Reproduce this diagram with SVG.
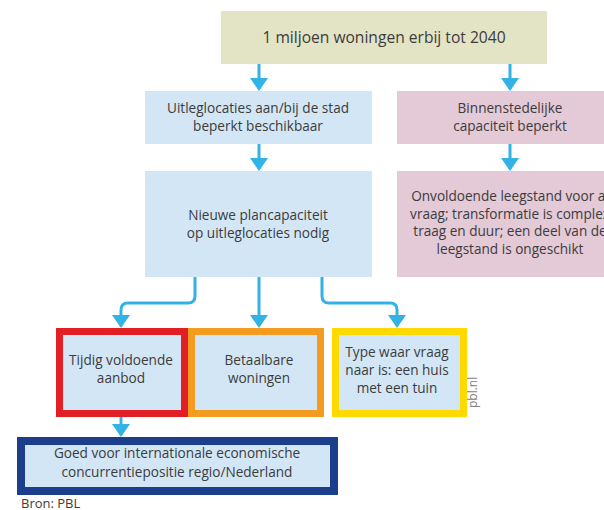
<svg xmlns="http://www.w3.org/2000/svg" width="604" height="510" viewBox="0 0 604 510">
  <defs>
    <style>
      text { font-family: "Open Sans", "Noto Sans", "Liberation Sans", sans-serif; font-size: 13.6px; fill: #3c3c3c; text-anchor: middle; }
      .blue { fill: #d3e6f5; }
      .olive { fill: #e3e3c5; }
      .pink { fill: #e4c9d7; }
      .frame { fill: #d3e6f5; }
      .wire { fill: none; stroke: #33b2e6; stroke-width: 3; marker-end: url(#head); }
      .note { font-size: 13px; text-anchor: start; }
      .credit { font-size: 12px; fill: #808080; text-anchor: start; }
    </style>
    <marker id="head" markerUnits="userSpaceOnUse" viewBox="0 0 13 18" refX="11" refY="9" markerWidth="13" markerHeight="18" orient="auto">
      <path d="M0 0 L13 9 L0 18 Z" fill="#33b2e6"/>
    </marker>
  </defs>

  <rect width="604" height="510" fill="#ffffff"/>

  <g id="connectors">
    <path class="wire" d="M259 64 V89"/>
    <path class="wire" d="M510 64 V89"/>
    <path class="wire" d="M259 144 V169"/>
    <path class="wire" d="M510 144 V169"/>
    <path class="wire" d="M195 277 V296 Q195 303 188 303 H128 Q121 303 121 310 V326"/>
    <path class="wire" d="M259 277 V326"/>
    <path class="wire" d="M322 277 V296 Q322 303 329 303 H390 Q397 303 397 310 V326"/>
    <path class="wire" d="M121 417 V435"/>
  </g>

  <g id="node-goal">
    <rect class="olive" x="221" y="11" width="326" height="53"/>
    <text x="384" y="43" style="font-size:15.6px">1 miljoen woningen erbij tot 2040</text>
  </g>

  <g id="node-uitleg">
    <rect class="blue" x="145" y="91" width="227" height="53"/>
    <text x="258" y="113">Uitleglocaties aan/bij de stad</text>
    <text x="258" y="131">beperkt beschikbaar</text>
  </g>

  <g id="node-binnenstedelijk">
    <rect class="pink" x="397" y="91" width="210" height="53"/>
    <text x="510" y="113">Binnenstedelijke</text>
    <text x="510" y="131">capaciteit beperkt</text>
  </g>

  <g id="node-plancapaciteit">
    <rect class="blue" x="145" y="171" width="227" height="106"/>
    <text x="258" y="220">Nieuwe plancapaciteit</text>
    <text x="258" y="238">op uitleglocaties nodig</text>
  </g>

  <g id="node-leegstand">
    <rect class="pink" x="397" y="171" width="210" height="106"/>
    <text x="510" y="201">Onvoldoende leegstand voor al</text>
    <text x="510" y="218.5">vraag; transformatie is complex</text>
    <text x="510" y="236">traag en duur; een deel van de</text>
    <text x="510" y="253.5">leegstand is ongeschikt</text>
  </g>

  <g id="node-aanbod">
    <rect class="frame" x="59.5" y="331.5" width="125" height="82" stroke="#e31f26" stroke-width="7"/>
    <text x="121" y="365">Tijdig voldoende</text>
    <text x="121" y="383">aanbod</text>
  </g>

  <g id="node-betaalbaar">
    <rect class="frame" x="191.5" y="331.5" width="129" height="82" stroke="#f39c1f" stroke-width="7"/>
    <text x="259" y="365">Betaalbare</text>
    <text x="259" y="383">woningen</text>
  </g>

  <g id="node-type">
    <rect class="frame" x="335.5" y="331.5" width="128" height="82" stroke="#ffda00" stroke-width="7"/>
    <text x="397" y="357">Type waar vraag</text>
    <text x="397" y="375">naar is: een huis</text>
    <text x="397" y="393">met een tuin</text>
  </g>

  <g id="node-concurrentie">
    <rect class="frame" x="21" y="441" width="313" height="50" stroke="#1b3f8a" stroke-width="8"/>
    <text x="177" y="458">Goed voor internationale economische</text>
    <text x="177" y="477">concurrentiepositie regio/Nederland</text>
  </g>

  <text class="credit" transform="translate(477 408) rotate(-90)">pbl.nl</text>
  <text class="note" x="21" y="508">Bron: PBL</text>
</svg>
